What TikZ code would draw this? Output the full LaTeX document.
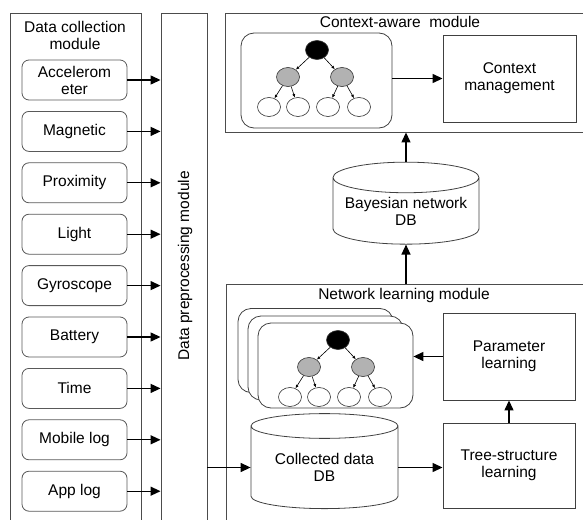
\documentclass[tikz,border=0pt]{standalone}
\usepackage{fontspec}
\setmainfont{Liberation Sans}
\usetikzlibrary{shapes.geometric,arrows.meta,positioning}

% small Bayesian network, #1 = name prefix, #2 = root position
\newcommand{\bntree}[2]{%
  \begin{scope}[shift={(#2)}]
    \node[root] (#1r) at (0,0) {};
    \node[mid] (#1a) at (-29,27) {};
    \node[mid] (#1b) at (25,27) {};
    \node[leaf] (#1l1) at (-48,57) {};
    \node[leaf] (#1l2) at (-19,57) {};
    \node[leaf] (#1l3) at (11,57) {};
    \node[leaf] (#1l4) at (42,57) {};
    \draw[link] (#1r) -- (#1a);
    \draw[link] (#1r) -- (#1b);
    \draw[link] (#1a) -- (#1l1);
    \draw[link] (#1a) -- (#1l2);
    \draw[link] (#1b) -- (#1l3);
    \draw[link] (#1b) -- (#1l4);
  \end{scope}%
}

\begin{document}
\begin{tikzpicture}[x=1pt,y=-1pt]

\tikzset{
    every node/.style={font=\fontsize{15.5}{17}\selectfont},
    module/.style={draw=black!70, line width=.9pt},
    sensor/.style={draw=black!65, line width=.8pt, rounded corners=7pt, minimum width=105pt, minimum height=40pt, align=center, inner sep=1pt},
    block/.style={draw=black!75, line width=.9pt, minimum width=133pt, minimum height=87pt, align=center},
    db/.style={cylinder, shape border rotate=90, draw=black!75, line width=.8pt, aspect=.25, minimum width=146pt, minimum height=82pt, align=center, inner sep=0pt},
    bnbox/.style={draw=black!75, line width=.8pt, rounded corners=13pt, fill=white},
    flow/.style={-{Triangle[length=10pt,width=9pt]}, line width=1.3pt},
    root/.style={ellipse, draw=black!80, line width=.6pt, fill=black, minimum width=23pt, minimum height=19pt, inner sep=0pt},
    mid/.style={root, fill=black!30},
    leaf/.style={root, fill=white},
    link/.style={-{Latex[length=3.5pt,width=3pt]}, line width=.6pt}
}

\useasboundingbox (0,0) rectangle (583,519);
\clip (0,0) rectangle (583,519);

% data collection and preprocessing
\node[module, minimum width=131pt, minimum height=540pt] (collect) at (75.5,283) {};
\node[align=center] (collect title) at (75,35) {Data collection\\module};
\node[module, minimum width=46pt, minimum height=540pt] (prep) at (184,283) {};
\node[rotate=90] (prep title) at (185,266) {Data preprocessing module};

\foreach \sname [count=\i from 0] in {Accelerom\\eter, Magnetic, Proximity, Light, Gyroscope, Battery, Time, Mobile log, App log} {
    \node[sensor] (s\i) at (74.5,80+51.4*\i) {\sname};
    \draw[flow] (s\i.east) -- (s\i.east -| prep.west);
}

% context-aware module
\node[module, minimum width=365pt, minimum height=119pt] (aware) at (407.5,72.5) {};
\node (aware title) at (400,22) {Context-aware\ \ module};
\node[bnbox, minimum width=151pt, minimum height=95pt] (bn top) at (316.5,80.5) {};
\bntree{t}{317,50}
\node[block] (manage) at (509.5,78.5) {Context\\management};
\draw[flow] (bn top.east |- manage.west) -- (manage.west);

% Bayesian network DB
\node[db] (bayes) at (406,211) {Bayesian network\\DB};
\draw[flow] (bayes.north) -- (bayes.north |- aware.south);

% network learning module
\node[module, minimum width=374pt, minimum height=316pt] (learn) at (413,442) {};
\node (learn title) at (404,295) {Network learning module};
\draw[flow] (bayes.south |- learn.north) -- (bayes.south);

\node[bnbox, minimum width=155pt, minimum height=84pt] (bn back) at (315.5,350.5) {};
\node[bnbox, minimum width=155pt, minimum height=84pt] (bn mid) at (325.5,358) {};
\node[bnbox, minimum width=155pt, minimum height=85pt] (bn front) at (335.5,365.5) {};
\bntree{b}{338,340}

\node[block, minimum width=132pt] (param) at (509,356.5) {Parameter\\learning};
\node[block, minimum width=132pt, minimum height=85pt] (tree) at (509,465.5) {Tree-structure\\learning};
\node[db, minimum width=147pt, minimum height=95pt] (collected) at (324.5,467.5) {Collected data\\DB};

\draw[flow] (param.west) -- (param.west -| bn front.east);
\draw[flow] (tree.north) -- (param.south);
\draw[flow] (collected.east) -- (collected.east -| tree.west);
\draw[flow] (prep.east |- collected.west) -- (collected.west);

\end{tikzpicture}
\end{document}
